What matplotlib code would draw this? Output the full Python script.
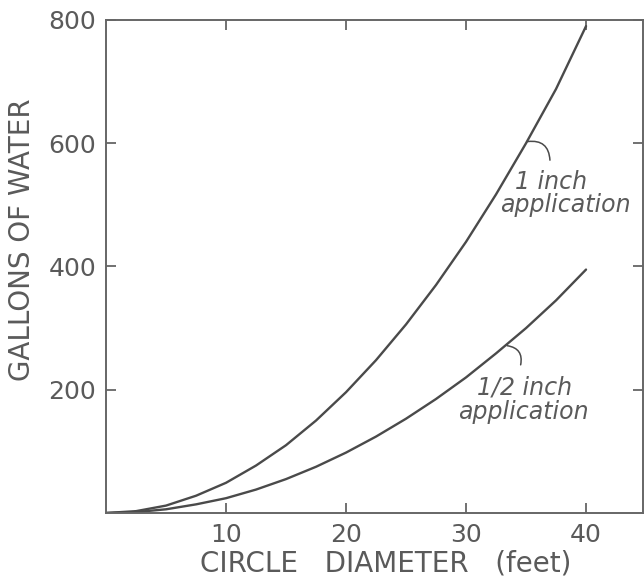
import matplotlib
matplotlib.use('Agg')
import matplotlib.pyplot as plt

# values
diameter = [0, 2.5, 5, 7.5, 10, 12.5, 15, 17.5, 20, 22.5, 25, 27.5, 30,
            32.5, 35, 37.5, 40]
one_inch = [0, 3, 12, 28, 49, 77, 110, 150, 196, 248, 306, 370, 440,
            517, 600, 688, 790]
half_inch = [0, 1.5, 6, 14, 24, 38, 55, 75, 98, 124, 153, 185, 220,
             259, 300, 345, 395]
xticks = [10, 20, 30, 40]
yticks = [200, 400, 600, 800]

ink = '#4a4a4a'
txt = '#5a5a5a'

fig = plt.figure(figsize=(6.44, 5.79), dpi=100)
ax = fig.add_axes([0.1646, 0.114, 0.8339, 0.8515])

ax.plot(diameter, one_inch, color=ink, lw=1.7, solid_capstyle='round')
ax.plot(diameter, half_inch, color=ink, lw=1.7, solid_capstyle='round')

ax.set_xlim(0, 44.75)
ax.set_ylim(0, 800)
ax.set_xticks(xticks)
ax.set_yticks(yticks)
ax.tick_params(direction='in', length=7, width=1.3, color='#666666',
               labelcolor=txt, labelsize=18, top=True, right=True, pad=7)
for s in ax.spines.values():
    s.set_color('#666666')
    s.set_linewidth(1.4)

ax.set_xlabel('CIRCLE   DIAMETER   (feet)', fontsize=20, color=txt)
ax.xaxis.set_label_coords(0.52, -0.075)
ax.set_ylabel('GALLONS OF WATER', fontsize=20, color=txt)
ax.yaxis.set_label_coords(-0.13, 0.554)

# labels with little leader strokes
ax.annotate('', xy=(34.9, 602), xytext=(37.0, 568),
            arrowprops=dict(arrowstyle='-', color=ink, lw=1.1,
                            connectionstyle='arc3,rad=0.6'))
ax.text(34.1, 537, '1 inch', fontsize=17, style='italic',
        color=txt, ha='left', va='center')
ax.text(32.8, 500, 'application', fontsize=17, style='italic',
        color=txt, ha='left', va='center')

ax.annotate('', xy=(33.2, 272), xytext=(34.5, 236),
            arrowprops=dict(arrowstyle='-', color=ink, lw=1.1,
                            connectionstyle='arc3,rad=0.6'))
ax.text(30.9, 204, '1/2 inch', fontsize=17, style='italic',
        color=txt, ha='left', va='center')
ax.text(29.3, 164, 'application', fontsize=17, style='italic',
        color=txt, ha='left', va='center')

fig.savefig('out.png', dpi=100)
